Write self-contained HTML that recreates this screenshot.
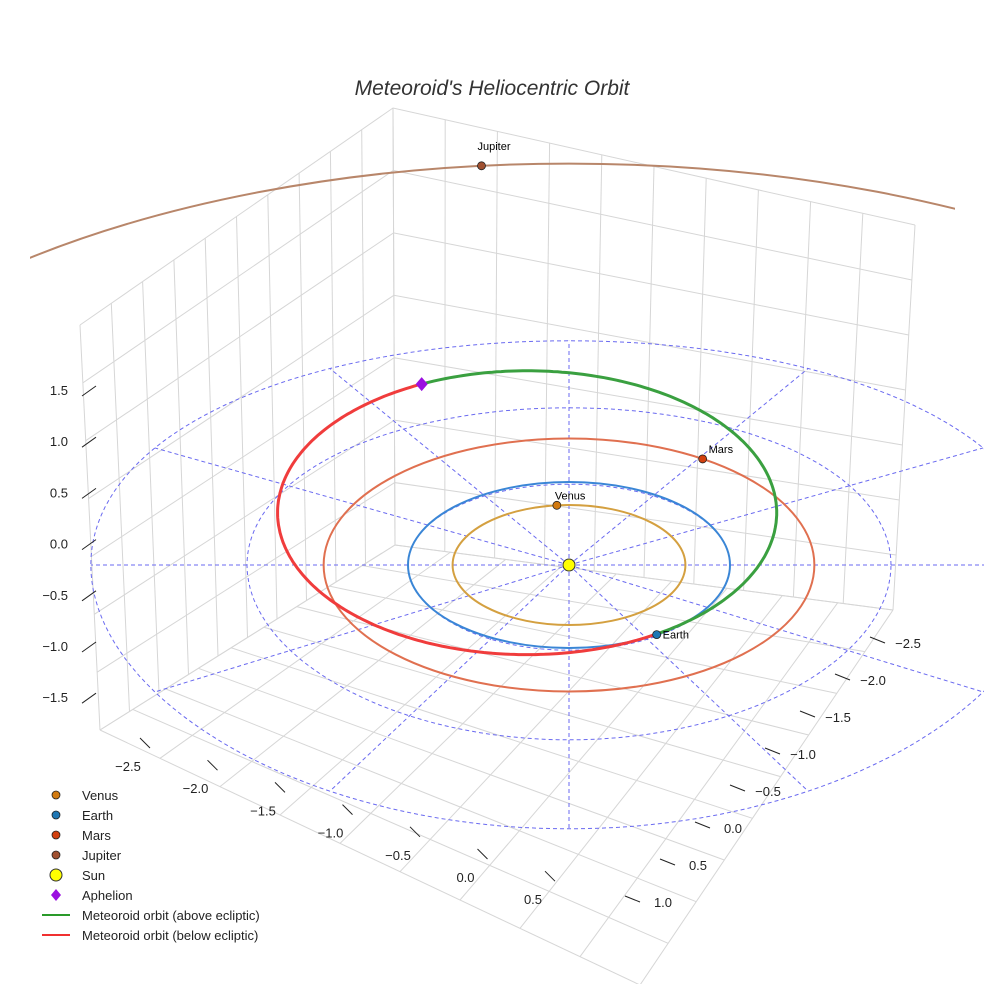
<!DOCTYPE html>
<html><head><meta charset="utf-8">
<style>
body{margin:0;background:#fff;font-family:"Liberation Sans",sans-serif;}
svg text{font-family:"Liberation Sans",sans-serif;}
</style></head>
<body>
<svg id="chart" width="984" height="984" viewBox="0 0 984 984" xmlns="http://www.w3.org/2000/svg">
<defs><clipPath id="clipJ"><rect x="30" y="0" width="925" height="984"/></clipPath></defs>
<rect width="984" height="984" fill="#fff"/>
<text x="492" y="95" text-anchor="middle" font-size="21" font-style="italic" fill="#333">Meteoroid's Heliocentric Orbit</text>
<g id="grid" stroke="#d6d6d6" stroke-width="1" fill="none"></g>
<g id="refs"></g>
<g id="orbits"></g>
<g id="meteor"></g>
<g id="bodies"></g>
<g id="axes" font-size="13" fill="#222"></g>
<g id="legend" font-size="13" fill="#222"></g>
</svg>
<script>
const planetNames = ["Venus","Earth","Mars","Jupiter"];
const planetRadii = [0.723, 1.0, 1.524, 5.2];
const planetAngles = [96, -57, 57, 96];
const planetColors = ["#d4a040","#3a86d6","#e07050","#b8866a"];
const markerColors = ["#d27a10","#1f77b4","#d2400f","#a05030"];
const refRadii = [1, 2, 3];
const refAngles = [0, 30, 60, 90, 120, 150, 180, 210, 240, 270, 300, 330];
const zTicks = ["1.5","1.0","0.5","0.0","−0.5","−1.0","−1.5"];
const xTicks = ["−2.5","−2.0","−1.5","−1.0","−0.5","0.0","0.5"];
const yTicks = ["−2.5","−2.0","−1.5","−1.0","−0.5","0.0","0.5","1.0"];
const meteorCenter = [-0.26, 0.63];
const meteorAxes = [1.55, 1.71];
const meteorAphelionT = 115;
const meteorCrossT = -59;

const NS="http://www.w3.org/2000/svg";
const CX=569, CY=565, SX=161, SY=83;
function px(r,a){return CX + r*SX*Math.cos(a*Math.PI/180);}
function py(r,a){return CY - r*SY*Math.sin(a*Math.PI/180);}
function ax(x){return CX + x*SX;}
function ay(y){return CY - y*SY;}
function refX(r,a){return CX + r*SX*(r>2?0.99:1)*Math.cos(a*Math.PI/180);}
function refY(r,a){const s=Math.sin(a*Math.PI/180);return CY - r*SY*(r>2?0.98:1)*s + r*r*2.2*s*s;}
function mk(tag,attrs,parent){const e=document.createElementNS(NS,tag);for(const k in attrs)e.setAttribute(k,attrs[k]);parent.appendChild(e);return e;}

const grid=document.getElementById('grid');
const boxL=[[80,325],[100,730]], boxB=[[393,108],[395,545]], boxR=[[915,225],[893,610]];
function lerp(a,b,t){return [a[0]+(b[0]-a[0])*t,a[1]+(b[1]-a[1])*t];}
for(let i=0;i<=10;i++){const t=i/10;
  const a=lerp(boxL[0],boxB[0],t), b=lerp(boxL[1],boxB[1],t);
  mk('line',{x1:a[0],y1:a[1],x2:b[0],y2:b[1]},grid);
  const c=lerp(boxB[0],boxR[0],t), d=lerp(boxB[1],boxR[1],t);
  mk('line',{x1:c[0],y1:c[1],x2:d[0],y2:d[1]},grid);
}
for(let i=0;i<=7;i++){const t=i/7;
  const a=lerp(boxL[0],boxL[1],t), b=lerp(boxB[0],boxB[1],t), c=lerp(boxR[0],boxR[1],t);
  mk('polyline',{points:`${a} ${b} ${c}`},grid);
}
const floorF=[640,985];
for(let i=0;i<=9;i++){const t=i/9;
  const a=lerp(boxL[1],boxB[1],t), b=lerp(floorF,boxR[1],t);
  mk('line',{x1:a[0],y1:a[1],x2:b[0],y2:b[1]},grid);
  const c=lerp(boxB[1],boxR[1],t), d=lerp(boxL[1],floorF,t);
  mk('line',{x1:c[0],y1:c[1],x2:d[0],y2:d[1]},grid);
}

const refs=document.getElementById('refs');
refRadii.forEach((r,i)=>{const pts=[];for(let a=0;a<=360;a+=2)pts.push(refX(r,a).toFixed(1)+','+refY(r,a).toFixed(1));
  const e=mk('polyline',{points:pts.join(' '),fill:'none',stroke:'#6a6af0','stroke-width':1,'stroke-dasharray':'4,3'},refs);
  });
refAngles.forEach(a=>{const R=3;
  const l=mk('line',{x1:CX,y1:CY,x2:refX(R,a),y2:refY(R,a),stroke:'#6a6af0','stroke-width':1,'stroke-dasharray':'4,3'},refs);
  });

const orbits=document.getElementById('orbits');
planetRadii.forEach((r,i)=>{
  let e;
  if(r>3){const rx=r*SX, ry=r*SY*0.93;
    e=mk('path',{d:`M ${CX-rx} ${CY} A ${rx} ${ry} 0 0 1 ${CX+rx} ${CY}`,fill:'none',stroke:planetColors[i],'stroke-width':2,'clip-path':'url(#clipJ)'},orbits);
  } else e=mk('ellipse',{cx:CX,cy:CY,rx:r*SX,ry:r*SY,fill:'none',stroke:planetColors[i],'stroke-width':2},orbits);
  });

const meteor=document.getElementById('meteor');
function mpt(tDeg){const t=tDeg*Math.PI/180;
  return [ax(meteorCenter[0]+meteorAxes[0]*Math.cos(t)), ay(meteorCenter[1]+meteorAxes[1]*Math.sin(t))];}
let g=[],rd=[];
for(let t=meteorAphelionT;t>=meteorCrossT;t--) g.push(mpt(t).map(v=>v.toFixed(1)).join(','));
for(let t=meteorAphelionT;t<=meteorCrossT+360;t++) rd.push(mpt(t).map(v=>v.toFixed(1)).join(','));
let pl=mk('polyline',{points:rd.join(' '),fill:'none',stroke:'#f03c3c','stroke-width':3},meteor);

pl=mk('polyline',{points:g.join(' '),fill:'none',stroke:'#3aa040','stroke-width':3},meteor);

const ap=mpt(meteorAphelionT);

const bodies=document.getElementById('bodies');
planetNames.forEach((n,i)=>{const r=planetRadii[i],a=planetAngles[i];let x=px(r,a),y=py(r,a);
  if(r>3) y=CY-r*SY*0.93*Math.sin(a*Math.PI/180);
  const c=mk('circle',{cx:x,cy:y,r:4,fill:markerColors[i],stroke:'#222','stroke-width':0.8},bodies);
  
  const t=mk('text',{x:x+(r>3?-4:(n==='Venus'?-2:6)),y:y+(r>3?-16:(n==='Earth'?4:-6)),'font-size':11,fill:'#000'},bodies);t.textContent=n;
  });
let s=mk('circle',{cx:CX,cy:CY,r:6,fill:'#ffff00',stroke:'#333','stroke-width':1},bodies);

let d=mk('polygon',{points:`${ap[0]},${ap[1]-7} ${ap[0]+6},${ap[1]} ${ap[0]},${ap[1]+7} ${ap[0]-6},${ap[1]}`,fill:'#9b10e0'},bodies);


const axes=document.getElementById('axes');
zTicks.forEach((t,i)=>{const y=390+i*51.2;const e=mk('text',{x:68,y:y+5,'text-anchor':'end'},axes);e.textContent=t;
  
  mk('line',{x1:82,y1:y+6,x2:96,y2:y-4,stroke:'#222'},axes);});
xTicks.forEach((t,i)=>{const x=128+i*67.5,y=766+i*22.2;const e=mk('text',{x:x,y:y+5,'text-anchor':'middle'},axes);e.textContent=t;
  
  mk('line',{x1:x+12,y1:y-28,x2:x+22,y2:y-18,stroke:'#222'},axes);});
yTicks.forEach((t,i)=>{const x=895-i*35,y=643+i*37;const e=mk('text',{x:x+13,y:y+5,'text-anchor':'middle'},axes);e.textContent=t;
  
  mk('line',{x1:x-25,y1:y-6,x2:x-10,y2:y,stroke:'#222'},axes);});

const legend=document.getElementById('legend');
const legItems=[["Venus","dot","#d27a10"],["Earth","dot","#1f77b4"],["Mars","dot","#d2400f"],["Jupiter","dot","#a05030"],["Sun","sun","#ffff00"],["Aphelion","dia","#9b10e0"],["Meteoroid orbit (above ecliptic)","line","#2a9a2a"],["Meteoroid orbit (below ecliptic)","line","#f03030"]];
legItems.forEach((it,i)=>{const y=795+i*20;const x=56;
  if(it[1]==='dot') mk('circle',{cx:x,cy:y,r:4,fill:it[2],stroke:'#222','stroke-width':0.8},legend);
  if(it[1]==='sun') mk('circle',{cx:x,cy:y,r:6,fill:it[2],stroke:'#333'},legend);
  if(it[1]==='dia') mk('polygon',{points:`${x},${y-6} ${x+5},${y} ${x},${y+6} ${x-5},${y}`,fill:it[2]},legend);
  if(it[1]==='line') mk('line',{x1:x-14,y1:y,x2:x+14,y2:y,stroke:it[2],'stroke-width':2},legend);
  const t=mk('text',{x:82,y:y+5},legend);t.textContent=it[0];
  });
</script>
</body></html>
